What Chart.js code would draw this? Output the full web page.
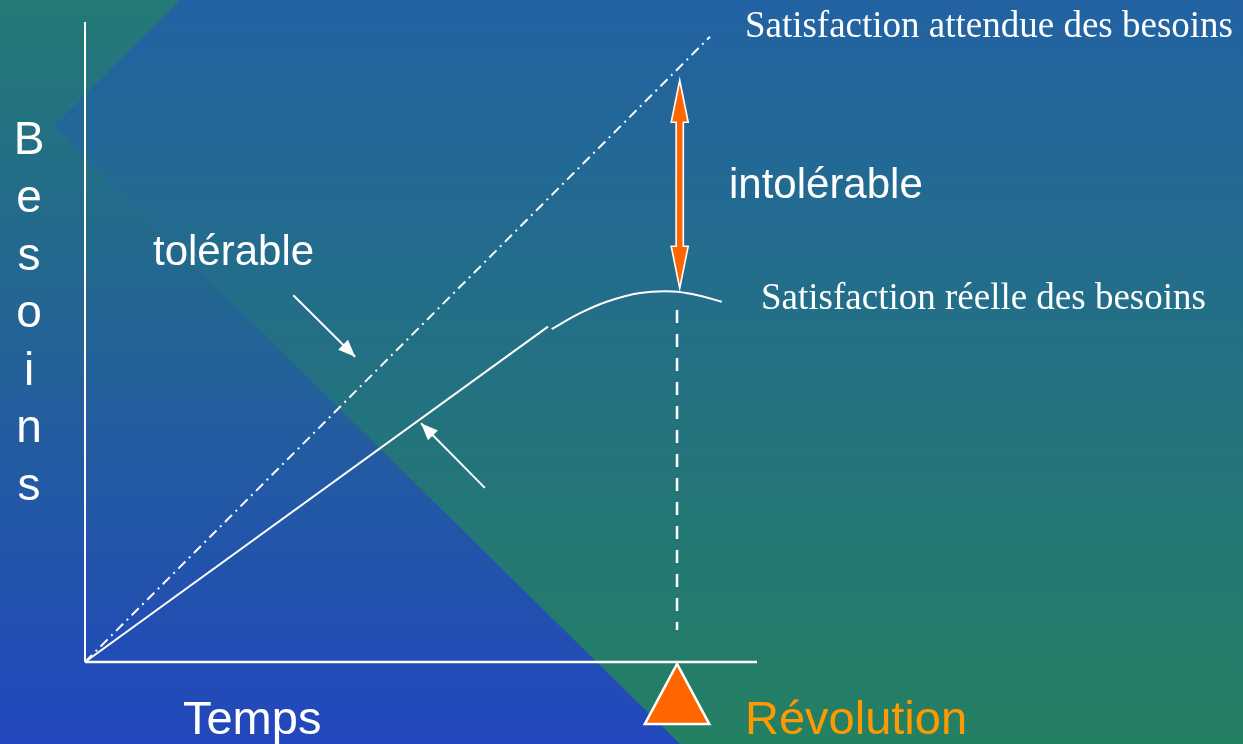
<!DOCTYPE html>
<html>
<head>
<meta charset="utf-8">
<script src="https://cdn.jsdelivr.net/npm/chart.js@4.4.1/dist/chart.umd.min.js"></script>
<style>
  html, body { margin: 0; padding: 0; overflow: hidden; background: #2262a3; }
  #wrap { width: 1243px; height: 744px; position: relative; }
</style>
</head>
<body>
<div id="wrap"><canvas id="c"></canvas></div>
<script>
// Conceptual units: time 0..100 along x, needs 0..100 along y
const axisX = [{ x: 0, y: 0 }, { x: 100, y: 0 }];
const axisY = [{ x: 0, y: 0 }, { x: 0, y: 100 }];
const expected = [{ x: 0, y: 0 }, { x: 93.0, y: 97.7 }];
const realLinear = [{ x: 0, y: 0 }, { x: 68.9, y: 52.4 }];
const realCurve = [
    { x: 69.45, y: 52.0 }, { x: 73.66, y: 54.5 }, { x: 77.63, y: 56.3 },
    { x: 82.59, y: 57.66 }, { x: 87.5, y: 57.9 }, { x: 91.03, y: 57.34 },
    { x: 94.75, y: 56.3 }
];
const revolutionDash = [{ x: 88.1, y: 55 }, { x: 88.1, y: 5 }];
const gapArrow = [{ x: 88.5, y: 90.9 }, { x: 88.5, y: 58.4 }];
const revolutionMark = [{ x: 83.3, y: -9.7 }, { x: 88.1, y: -0.3 }, { x: 92.9, y: -9.7 }];
const pointerExpected = [{ x: 31.0, y: 57.3 }, { x: 40.2, y: 47.7 }];
const pointerReal = [{ x: 59.5, y: 27.2 }, { x: 50.0, y: 37.3 }];
const yTitle = ['B', 'e', 's', 'o', 'i', 'n', 's'];
const xTitle = 'Temps';
const eventLabel = 'Révolution';
const expectedLabel = 'Satisfaction attendue des besoins';
const realLabel = 'Satisfaction réelle des besoins';
const zoneLow = 'tolérable';
const zoneHigh = 'intolérable';

const W = 1243, H = 744;

const background = {
    id: 'background',
    beforeDraw(chart) {
        const ctx = chart.ctx;
        ctx.save();
        let g = ctx.createLinearGradient(0, 0, 0, H);
        g.addColorStop(0, '#2262a3');
        g.addColorStop(1, '#248062');
        ctx.fillStyle = g;
        ctx.fillRect(0, 0, W, H);
        // left wedge, reversed gradient
        g = ctx.createLinearGradient(0, 0, 0, H);
        g.addColorStop(0, '#237a76');
        g.addColorStop(1, '#2247bd');
        ctx.fillStyle = g;
        ctx.beginPath();
        ctx.moveTo(0, 0);
        ctx.lineTo(180, 0);
        ctx.lineTo(53, 127);
        ctx.lineTo(680, H);
        ctx.lineTo(0, H);
        ctx.closePath();
        ctx.fill();
        ctx.restore();
    }
};

function head(ctx, tip, from, len, half) {
    const dx = tip.x - from.x, dy = tip.y - from.y;
    const d = Math.hypot(dx, dy);
    const ux = dx / d, uy = dy / d;
    ctx.beginPath();
    ctx.moveTo(tip.x, tip.y);
    ctx.lineTo(tip.x - ux * len - uy * half, tip.y - uy * len + ux * half);
    ctx.lineTo(tip.x - ux * len + uy * half, tip.y - uy * len - ux * half);
    ctx.closePath();
    ctx.fill();
}

const overlay = {
    id: 'overlay',
    afterDatasetsDraw(chart) {
        const ctx = chart.ctx;
        const sx = chart.scales.x, sy = chart.scales.y;
        const P = (p) => ({ x: sx.getPixelForValue(p.x), y: sy.getPixelForValue(p.y) });
        ctx.save();

        // pointer arrowheads
        ctx.fillStyle = '#ffffff';
        [pointerExpected, pointerReal].forEach(arr => {
            head(ctx, P(arr[1]), P(arr[0]), 17, 7);
        });

        // revolution triangle
        ctx.beginPath();
        revolutionMark.map(P).forEach((p, i) => i ? ctx.lineTo(p.x, p.y) : ctx.moveTo(p.x, p.y));
        ctx.closePath();
        ctx.fillStyle = '#ff6600';
        ctx.fill();
        ctx.lineWidth = 2.5;
        ctx.strokeStyle = '#ffffff';
        ctx.lineJoin = 'miter';
        ctx.stroke();

        // double-headed orange arrow
        const t = P(gapArrow[0]), b = P(gapArrow[1]);
        const hl = 42, hw = 8.5, sw = 3.6;
        ctx.beginPath();
        ctx.moveTo(t.x, t.y);
        ctx.lineTo(t.x + hw, t.y + hl);
        ctx.lineTo(t.x + sw, t.y + hl);
        ctx.lineTo(b.x + sw, b.y - hl);
        ctx.lineTo(b.x + hw, b.y - hl);
        ctx.lineTo(b.x, b.y);
        ctx.lineTo(b.x - hw, b.y - hl);
        ctx.lineTo(b.x - sw, b.y - hl);
        ctx.lineTo(t.x - sw, t.y + hl);
        ctx.lineTo(t.x - hw, t.y + hl);
        ctx.closePath();
        ctx.fillStyle = '#ff6600';
        ctx.fill();
        ctx.lineWidth = 1.6;
        ctx.strokeStyle = '#ffffff';
        ctx.stroke();

        // texts
        ctx.textBaseline = 'alphabetic';
        const text = (s, x, y, font, color, align) => {
            ctx.font = font;
            ctx.fillStyle = color;
            ctx.textAlign = align || 'left';
            ctx.fillText(s, sx.getPixelForValue(x), sy.getPixelForValue(y));
        };
        const serif = '37px "Liberation Serif", "Times New Roman", serif';
        const sans = '"Liberation Sans", Arial, sans-serif';
        text(expectedLabel, 98.2, 97.66, serif, '#ffffff');
        text(realLabel, 100.6, 55.16, serif, '#ffffff');
        text(zoneHigh, 95.83, 72.5, '42px ' + sans, '#ffffff');
        text(zoneLow, 10.12, 62.03, '42px ' + sans, '#ffffff');
        text(xTitle, 14.58, -11.25, '47px ' + sans, '#ffffff');
        text(eventLabel, 98.21, -11.25, '47px ' + sans, '#ff9900');
        yTitle.forEach((ch, i) => {
            text(ch, -8.33, 79.3 - i * 9.0, '46px ' + sans, '#ffffff', 'center');
        });
        ctx.restore();
    }
};

const line = (data, extra) => Object.assign({
    data, showLine: true, borderColor: '#ffffff', borderWidth: 2,
    pointRadius: 0, fill: false, clip: false
}, extra || {});

new Chart(document.getElementById('c'), {
    type: 'scatter',
    data: {
        datasets: [
            line(axisX, { borderWidth: 2.5 }),
            line(axisY, { borderWidth: 2 }),
            line(expected, { borderDash: [10, 5, 2, 5] }),
            line(realLinear),
            line(realCurve, { tension: 0.4 }),
            line(revolutionDash, { borderWidth: 2.5, borderDash: [13, 11] }),
            line(pointerExpected),
            line(pointerReal)
        ]
    },
    options: {
        responsive: true,
        maintainAspectRatio: false,
        animation: false,
        layout: { padding: { left: 85, right: W - 757, top: 22, bottom: H - 662 } },
        plugins: { legend: { display: false }, tooltip: { enabled: false } },
        events: [],
        scales: {
            x: { type: 'linear', min: 0, max: 100, display: false },
            y: { type: 'linear', min: 0, max: 100, display: false }
        }
    },
    plugins: [background, overlay]
});
</script>
</body>
</html>
